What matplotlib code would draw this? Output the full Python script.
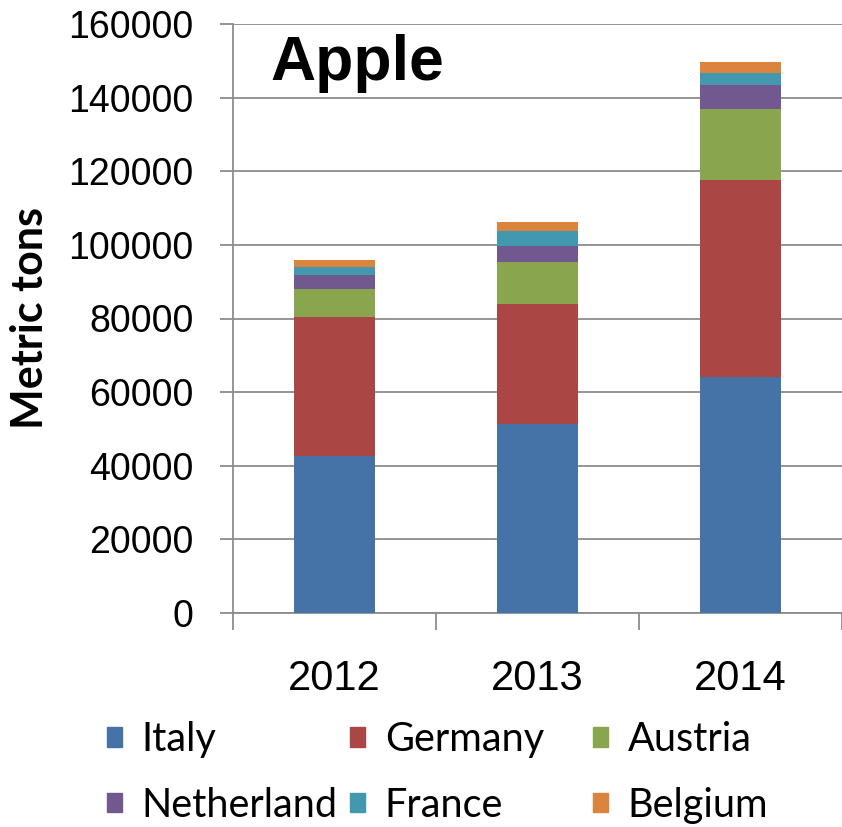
import numpy as np
import matplotlib
matplotlib.use('Agg')
import matplotlib.pyplot as plt
from matplotlib.patches import Patch

# 연도별 사과 수입량 (metric tons)
years = ['2012', '2013', '2014']
countries = ['Italy', 'Germany', 'Austria', 'Netherland', 'France', 'Belgium']
italy = [42700, 51300, 64000]
germany = [37600, 32700, 53500]
austria = [7800, 11300, 19500]
netherland = [3700, 4400, 6300]
france = [2300, 4200, 3400]
belgium = [1800, 2300, 3000]
colors = ['#4572A7', '#AA4643', '#89A54E', '#71588F', '#4198AF', '#DB843D']

series = [italy, germany, austria, netherland, france, belgium]

fig = plt.figure(figsize=(8.42, 8.27), dpi=100)
ax = fig.add_axes([233/842, 1-613/827, 609/842, 589/827])

x = np.arange(len(years))
bottom = np.zeros(len(years))
for vals, c, name in zip(series, colors, countries):
    ax.bar(x, vals, 0.4, bottom=bottom, color=c, label=name, zorder=3)
    bottom += np.array(vals)

ax.set_xlim(-0.5, 2.5)
ax.set_ylim(0, 160000)
ax.set_yticks(np.arange(0, 160001, 20000))
ax.grid(axis='y', color='#8c8c8c', linewidth=1.3, zorder=0)

gray = '#8c8c8c'
for s in ['top', 'right']:
    ax.spines[s].set_visible(False)
for s in ['left', 'bottom']:
    ax.spines[s].set_color(gray)
    ax.spines[s].set_linewidth(1.3)

# 가로축 눈금은 범주 경계에
ax.set_xticks(x)
ax.set_xticklabels(years, fontsize=30, family='Liberation Sans')
ax.set_xticks([-0.5, 0.5, 1.5, 2.5], minor=True)
ax.tick_params(axis='x', which='major', length=0, pad=33)
ax.tick_params(axis='x', which='minor', length=12, width=1.3, color=gray)
ax.tick_params(axis='y', length=9.5, width=1.3, color=gray, pad=19, labelsize=27)
for lbl in ax.get_yticklabels():
    lbl.set_family('Liberation Sans')

fig.text(30/842, 1-318.5/827, 'Metric tons', rotation=90, fontsize=31,
         fontweight='bold', family='Lato', ha='center', va='center')

ax.text(0.061, 0.905, 'Apple', transform=ax.transAxes, fontsize=45,
        fontweight='bold', family='Liberation Sans', va='baseline', zorder=5)

# 범례: 열마다 따로 (엑셀처럼 같은 간격)
cols = [(0, 3), (1, 4), (2, 5)]
xpos = [107, 350, 593]
for (i, j), xp in zip(cols, xpos):
    handles = [Patch(color=colors[i]), Patch(color=colors[j])]
    leg = fig.legend(handles, [countries[i], countries[j]], loc='center left',
                     bbox_to_anchor=(xp/842, 1-772.5/827), frameon=False,
                     borderpad=0, borderaxespad=0, handlelength=0.38,
                     handleheight=0.38, handletextpad=0.5, labelspacing=0.72,
                     prop={'family': 'Lato', 'size': 28.5})

fig.savefig('out.png', dpi=100)
